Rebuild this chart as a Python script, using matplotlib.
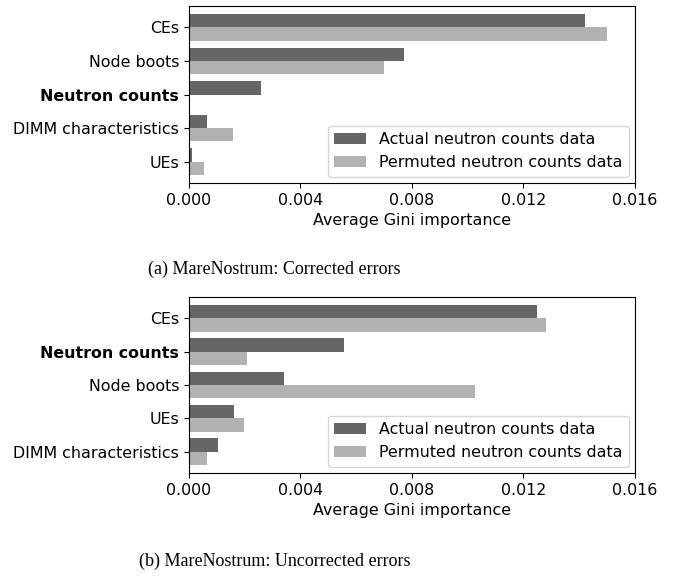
import numpy as np
import matplotlib.pyplot as plt

plt.rcParams["font.family"] = "DejaVu Sans"

# feature importances, top panel: corrected errors
feat_ce = ["CEs", "Node boots", "Neutron counts", "DIMM characteristics", "UEs"]
actual_ce = [0.0142, 0.0077, 0.00257, 0.00063, 0.0001]
permuted_ce = [0.0150, 0.0070, 0.0, 0.00157, 0.00053]

# bottom panel: uncorrected errors
feat_ue = ["CEs", "Neutron counts", "Node boots", "UEs", "DIMM characteristics"]
actual_ue = [0.01248, 0.00555, 0.0034, 0.0016, 0.00103]
permuted_ue = [0.0128, 0.00207, 0.01026, 0.00196, 0.00063]

xticks = [0.0, 0.004, 0.008, 0.012, 0.016]
captions = ["(a) MareNostrum: Corrected errors", "(b) MareNostrum: Uncorrected errors"]

c_actual = "#666666"
c_perm = "#b2b2b2"
fs = 11.4

fig = plt.figure(figsize=(6.84, 5.79), dpi=100)
ax1 = fig.add_axes([0.2763, 0.6839, 0.652, 0.3057])
ax2 = fig.add_axes([0.2763, 0.183, 0.652, 0.304])

for ax, feats, act, perm in [(ax1, feat_ce, actual_ce, permuted_ce),
                             (ax2, feat_ue, actual_ue, permuted_ue)]:
    y = np.arange(len(feats))
    h = 0.4
    ax.barh(y - h / 2, act, height=h, color=c_actual, label="Actual neutron counts data")
    ax.barh(y + h / 2, perm, height=h, color=c_perm, label="Permuted neutron counts data")
    ax.set_yticks(y)
    ax.set_yticklabels(feats, fontsize=fs)
    ax.invert_yaxis()
    ax.set_xlim(0, 0.016)
    ax.set_xticks(xticks)
    ax.set_xticklabels(["%.3f" % v for v in xticks], fontsize=fs)
    ax.set_xlabel("Average Gini importance", fontsize=fs, labelpad=4)
    ax.legend(loc="lower right", fontsize=fs, borderaxespad=0.4)
    for lab in ax.get_yticklabels():
        if lab.get_text() == "Neutron counts":
            lab.set_fontweight("bold")

fig.text(0.401, 0.534, captions[0], ha="center", va="center",
         family="Liberation Serif", fontsize=13)
fig.text(0.401, 0.031, captions[1], ha="center", va="center",
         family="Liberation Serif", fontsize=13)

fig.savefig("out.png", dpi=100)
